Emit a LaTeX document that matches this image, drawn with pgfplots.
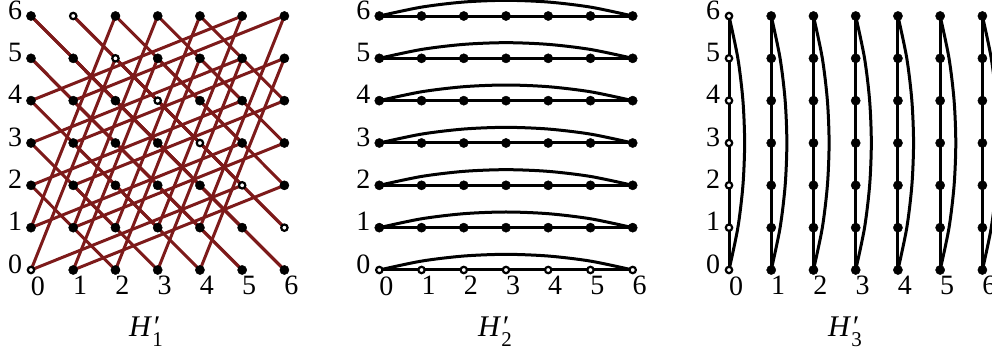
\documentclass[border=0pt]{standalone}
\usepackage{fontspec}
\setmainfont{Liberation Serif}
\usepackage{pgfplots}
\pgfplotsset{compat=1.18}
\definecolor{edgered}{RGB}{125,26,26}

\pgfplotsset{
  gridpanel/.style={
    scale only axis, width=126.7pt, height=127pt,
    xmin=0,xmax=6,ymin=0,ymax=6,
    clip=false,
    axis line style={draw=none},
    major tick length=0pt,
    xtick={0,...,6}, ytick={0,...,6},
    /pgf/number format/assume math mode=true,
    ticklabel style={font=\fontsize{14}{16}\selectfont, inner sep=0pt},
    xticklabel style={anchor=north, xshift=3.5pt, yshift=-3pt},
    yticklabel style={anchor=east, xshift=-4.2pt, yshift=3pt},
    anchor=south west,
  },
  dot/.style={only marks, mark=*, mark size=2.3pt, mark options={fill=black, draw=black, line width=0.2pt}},
  odot/.style={only marks, mark=*, mark size=1.6pt, mark options={fill=white, draw=black, line width=1.1pt}},
  edge/.style={black, line width=1.5pt},
}
\newcommand{\Hp}[1]{\textit{H}\makebox[0pt][l]{\textit{′}}\raisebox{-0.32em}{\fontsize{10.5}{10.5}\selectfont #1}}

\begin{document}
\begin{tikzpicture}
% ---------- H'_1 ----------
\begin{axis}[gridpanel, at={(15.5pt,46pt)}]
\addplot[edgered, line width=1.5pt, quiver={u=\thisrow{u}, v=\thisrow{v}}] table {
x y u v
0 0 2 5
0 1 2 5
0 2 2 -2
0 3 2 -2
0 4 2 -2
0 5 2 -2
0 6 2 -2
1 0 2 5
1 1 2 5
1 2 2 -2
1 3 2 -2
1 4 2 -2
1 5 2 -2
1 6 2 -2
2 0 2 5
2 1 2 5
2 2 2 -2
2 3 2 -2
2 4 2 -2
2 5 2 -2
2 6 2 -2
3 0 2 5
3 1 2 5
3 2 2 -2
3 3 2 -2
3 4 2 -2
3 5 2 -2
3 6 2 -2
4 0 2 5
4 1 2 5
4 2 2 -2
4 3 2 -2
4 4 2 -2
4 5 2 -2
4 6 2 -2
5 0 -5 5
5 1 -5 5
5 2 -5 -2
5 3 -5 -2
5 4 -5 -2
5 5 -5 -2
5 6 -5 -2
6 0 -5 5
6 1 -5 5
6 2 -5 -2
6 3 -5 -2
6 4 -5 -2
6 5 -5 -2
6 6 -5 -2
};
\addplot[dot] coordinates {
(1,0) (2,0) (3,0) (4,0) (5,0) (6,0)
(0,1) (1,1) (2,1) (3,1) (4,1) (5,1)
(0,2) (1,2) (2,2) (3,2) (4,2) (6,2)
(0,3) (1,3) (2,3) (3,3) (5,3) (6,3)
(0,4) (1,4) (2,4) (4,4) (5,4) (6,4)
(0,5) (1,5) (3,5) (4,5) (5,5) (6,5)
(0,6) (2,6) (3,6) (4,6) (5,6) (6,6)
};
\addplot[odot] coordinates {(0,0) (1,6) (2,5) (3,4) (4,3) (5,2) (6,1)};
\end{axis}

% ---------- H'_2 ----------
\begin{axis}[gridpanel, at={(189.65pt,46pt)}]
\addplot[edge] coordinates {(0,0) (6,0)};
\addplot[edge] coordinates {(0,1) (6,1)};
\addplot[edge] coordinates {(0,2) (6,2)};
\addplot[edge] coordinates {(0,3) (6,3)};
\addplot[edge] coordinates {(0,4) (6,4)};
\addplot[edge] coordinates {(0,5) (6,5)};
\addplot[edge] coordinates {(0,6) (6,6)};
\addplot[edge, smooth] coordinates {(0,0) (1,0.21) (2,0.33) (3,0.37) (4,0.33) (5,0.21) (6,0)};
\addplot[edge, smooth] coordinates {(0,1) (1,1.21) (2,1.33) (3,1.37) (4,1.33) (5,1.21) (6,1)};
\addplot[edge, smooth] coordinates {(0,2) (1,2.21) (2,2.33) (3,2.37) (4,2.33) (5,2.21) (6,2)};
\addplot[edge, smooth] coordinates {(0,3) (1,3.21) (2,3.33) (3,3.37) (4,3.33) (5,3.21) (6,3)};
\addplot[edge, smooth] coordinates {(0,4) (1,4.21) (2,4.33) (3,4.37) (4,4.33) (5,4.21) (6,4)};
\addplot[edge, smooth] coordinates {(0,5) (1,5.21) (2,5.33) (3,5.37) (4,5.33) (5,5.21) (6,5)};
\addplot[edge, smooth] coordinates {(0,6) (1,6.21) (2,6.33) (3,6.37) (4,6.33) (5,6.21) (6,6)};
\addplot[dot] coordinates {
(0,1) (1,1) (2,1) (3,1) (4,1) (5,1) (6,1)
(0,2) (1,2) (2,2) (3,2) (4,2) (5,2) (6,2)
(0,3) (1,3) (2,3) (3,3) (4,3) (5,3) (6,3)
(0,4) (1,4) (2,4) (3,4) (4,4) (5,4) (6,4)
(0,5) (1,5) (2,5) (3,5) (4,5) (5,5) (6,5)
(0,6) (1,6) (2,6) (3,6) (4,6) (5,6) (6,6)
};
\addplot[odot] coordinates {(0,0) (1,0) (2,0) (3,0) (4,0) (5,0) (6,0)};
\end{axis}

% ---------- H'_3 ----------
\begin{axis}[gridpanel, at={(364.5pt,46pt)}]
\addplot[edge] coordinates {(0,0) (0,6)};
\addplot[edge] coordinates {(1,0) (1,6)};
\addplot[edge] coordinates {(2,0) (2,6)};
\addplot[edge] coordinates {(3,0) (3,6)};
\addplot[edge] coordinates {(4,0) (4,6)};
\addplot[edge] coordinates {(5,0) (5,6)};
\addplot[edge] coordinates {(6,0) (6,6)};
\addplot[edge, smooth] coordinates {(0,0) (0.21,1) (0.33,2) (0.37,3) (0.33,4) (0.21,5) (0,6)};
\addplot[edge, smooth] coordinates {(1,0) (1.21,1) (1.33,2) (1.37,3) (1.33,4) (1.21,5) (1,6)};
\addplot[edge, smooth] coordinates {(2,0) (2.21,1) (2.33,2) (2.37,3) (2.33,4) (2.21,5) (2,6)};
\addplot[edge, smooth] coordinates {(3,0) (3.21,1) (3.33,2) (3.37,3) (3.33,4) (3.21,5) (3,6)};
\addplot[edge, smooth] coordinates {(4,0) (4.21,1) (4.33,2) (4.37,3) (4.33,4) (4.21,5) (4,6)};
\addplot[edge, smooth] coordinates {(5,0) (5.21,1) (5.33,2) (5.37,3) (5.33,4) (5.21,5) (5,6)};
\addplot[edge, smooth] coordinates {(6,0) (6.21,1) (6.33,2) (6.37,3) (6.33,4) (6.21,5) (6,6)};
\addplot[dot] coordinates {
(1,0) (1,1) (1,2) (1,3) (1,4) (1,5) (1,6)
(2,0) (2,1) (2,2) (2,3) (2,4) (2,5) (2,6)
(3,0) (3,1) (3,2) (3,3) (3,4) (3,5) (3,6)
(4,0) (4,1) (4,2) (4,3) (4,4) (4,5) (4,6)
(5,0) (5,1) (5,2) (5,3) (5,4) (5,5) (5,6)
(6,0) (6,1) (6,2) (6,3) (6,4) (6,5) (6,6)
};
\addplot[odot] coordinates {(0,0) (0,1) (0,2) (0,3) (0,4) (0,5) (0,6)};
\end{axis}

% ---------- captions ----------
\node[anchor=base, font=\fontsize{15}{17}\selectfont] at (73pt,12.5pt) {\Hp{1}};
\node[anchor=base, font=\fontsize{15}{17}\selectfont] at (247.5pt,12.5pt) {\Hp{2}};
\node[anchor=base, font=\fontsize{15}{17}\selectfont] at (422.5pt,12.5pt) {\Hp{3}};

\pgfresetboundingbox
\path[use as bounding box] (0pt,0pt) rectangle (496pt,181pt);
\end{tikzpicture}
\end{document}
